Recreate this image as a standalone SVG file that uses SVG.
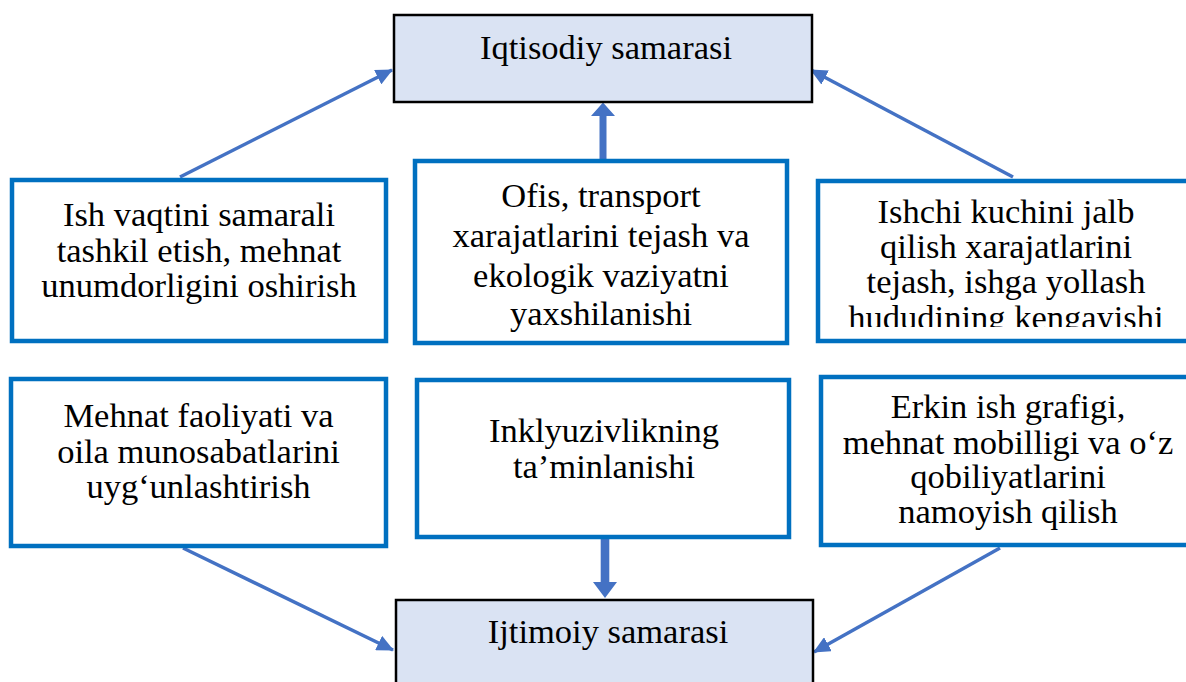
<svg xmlns="http://www.w3.org/2000/svg" width="1186" height="682" viewBox="0 0 1186 682" font-family="'Liberation Serif', 'Times New Roman', 'DejaVu Serif', serif">
<style>
.main{fill:#dae3f3;stroke:#000;stroke-width:2.5}
.box{fill:#fff;stroke:#0070c0;stroke-width:4.5}
text{font-family:'Liberation Serif','Times New Roman','DejaVu Serif',serif;font-size:34.5px;fill:#000;text-anchor:middle}
.conn{stroke:#4472c4;stroke-width:3.5;fill:none}
.thick{fill:#4472c4}
</style>
<defs>
<marker id="ah" markerUnits="userSpaceOnUse" markerWidth="18" markerHeight="16" refX="16" refY="8" orient="auto">
<path d="M0,0 L17,8 L0,16 Z" fill="#4472c4"/>
</marker>
<clipPath id="clipR1"><rect x="818" y="181" width="368" height="146"/></clipPath>
<clipPath id="clipM1"><rect x="415" y="161" width="372" height="177"/></clipPath>
</defs>

<g id="connectors">
<line class="conn" x1="180" y1="177" x2="392" y2="70" marker-end="url(#ah)"/>
<line class="conn" x1="1013" y1="177" x2="811" y2="70" marker-end="url(#ah)"/>
<line class="conn" x1="183" y1="548" x2="393" y2="650" marker-end="url(#ah)"/>
<line class="conn" x1="1000" y1="548" x2="814" y2="652" marker-end="url(#ah)"/>
<polygon class="thick" points="599.5,159 606.5,159 606.5,116 615,116 603,102.5 591,116 599.5,116"/>
<polygon class="thick" points="600.7,539 609.3,539 609.3,582 617,582 605,598 593,582 600.7,582"/>
</g>

<g id="node-iqtisodiy">
<rect class="main" x="394" y="15" width="418" height="87"/>
<text x="606" y="59">Iqtisodiy samarasi</text>
</g>

<g id="node-ijtimoiy">
<rect class="main" x="396" y="600" width="417" height="95"/>
<text x="608" y="643">Ijtimoiy samarasi</text>
</g>

<g id="node-ish-vaqti">
<rect class="box" x="12" y="180" width="374" height="161"/>
<text x="199" y="225.7">Ish vaqtini samarali</text>
<text x="199" y="261.5">tashkil etish, mehnat</text>
<text x="199" y="297.3">unumdorligini oshirish</text>
</g>

<g id="node-ofis">
<rect class="box" x="415" y="161" width="372" height="182"/>
<g clip-path="url(#clipM1)">
<text x="601" y="207.3">Ofis, transport</text>
<text x="601" y="246.7">xarajatlarini tejash va</text>
<text x="601" y="286.7">ekologik vaziyatni</text>
<text x="601" y="325">yaxshilanishi</text>
</g>
</g>

<g id="node-ishchi">
<rect class="box" x="818" y="181" width="380" height="160"/>
<g clip-path="url(#clipR1)">
<text x="1006" y="223.3">Ishchi kuchini jalb</text>
<text x="1006" y="258.3">qilish xarajatlarini</text>
<text x="1006" y="293.3">tejash, ishga yollash</text>
<text x="1006" y="329">hududining kengayishi</text>
</g>
</g>

<g id="node-mehnat">
<rect class="box" x="11" y="379" width="375" height="167"/>
<text x="198.5" y="426.7">Mehnat faoliyati va</text>
<text x="198.5" y="462.7">oila munosabatlarini</text>
<text x="198.5" y="498.3">uyg‘unlashtirish</text>
</g>

<g id="node-inklyuziv">
<rect class="box" x="417" y="380" width="372" height="157"/>
<text x="604" y="441.7">Inklyuzivlikning</text>
<text x="604" y="478.3">ta’minlanishi</text>
</g>

<g id="node-erkin">
<rect class="box" x="821" y="377" width="376" height="168"/>
<text x="1008" y="418.3">Erkin ish grafigi,</text>
<text x="1008" y="454">mehnat mobilligi va o‘z</text>
<text x="1008" y="488.3">qobiliyatlarini</text>
<text x="1008" y="523.3">namoyish qilish</text>
</g>
</svg>
